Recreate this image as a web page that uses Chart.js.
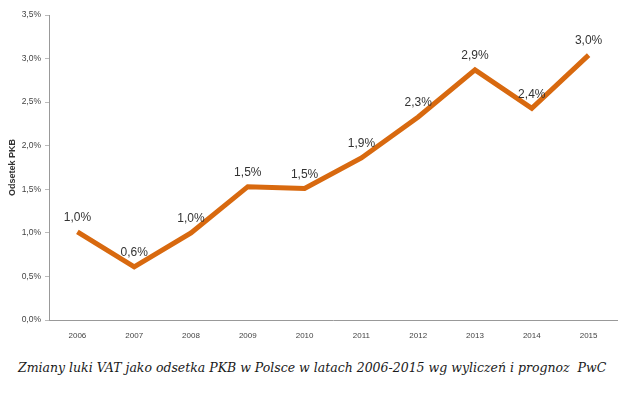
<!DOCTYPE html>
<html lang="pl">
<head>
    <meta charset="UTF-8">
    <title>Luka VAT</title>
    <style>
        html, body { margin: 0; padding: 0; background: #fff; }
        #wrap { position: relative; width: 641px; height: 399px; }
        #chart { position: absolute; left: 0; top: 0; }
        #caption {
            position: absolute; left: 18px; top: 360px;
            font-family: "DejaVu Serif", serif; font-style: italic;
            font-size: 13px; color: #1a1a1a; white-space: nowrap;
        }
    </style>
</head>
<body>
<div id="wrap">
    <canvas id="chart" width="641" height="345"></canvas>
    <div id="caption">Zmiany luki VAT jako odsetka PKB w Polsce w latach 2006-2015 wg wyliczeń i prognoz&nbsp; PwC</div>
</div>

<script src="https://cdn.jsdelivr.net/npm/chart.js"></script>
<script>
    var years = ['2006', '2007', '2008', '2009', '2010', '2011', '2012', '2013', '2014', '2015'];
    var vatGap = [1.01, 0.61, 1.0, 1.53, 1.51, 1.86, 2.33, 2.87, 2.43, 3.04];
    var pointLabels = ['1,0%', '0,6%', '1,0%', '1,5%', '1,5%', '1,9%', '2,3%', '2,9%', '2,4%', '3,0%'];

    // fit caption to the width seen in the picture
    var cap = document.getElementById('caption');
    var size = 13;
    while (cap.offsetWidth > 592 && size > 8) { size -= 0.25; cap.style.fontSize = size + 'px'; }
    while (cap.offsetWidth < 588 && size < 18) { size += 0.25; cap.style.fontSize = size + 'px'; }

    var labelPlugin = {
        id: 'pointLabels',
        afterDatasetsDraw: function(chart) {
            var ctx = chart.ctx;
            var meta = chart.getDatasetMeta(0);
            ctx.save();
            ctx.font = '12px "Liberation Sans", Arial, sans-serif';
            ctx.fillStyle = '#333';
            ctx.textAlign = 'center';
            ctx.textBaseline = 'middle';
            meta.data.forEach(function(pt, i) {
                ctx.fillText(pointLabels[i], pt.x, pt.y - 14);
            });
            ctx.restore();
        }
    };

    var ctx = document.getElementById('chart').getContext('2d');
    var chart = new Chart(ctx, {
        type: 'line',
        data: {
            labels: years,
            datasets: [{
                data: vatGap,
                borderColor: '#d8690f',
                borderWidth: 5,
                pointRadius: 0,
                tension: 0,
                fill: false
            }]
        },
        options: {
            responsive: false,
            animation: false,
            layout: { padding: { top: 15, right: 24, left: 0, bottom: 0 } },
            plugins: { legend: { display: false }, tooltip: { enabled: false } },
            scales: {
                x: {
                    offset: true,
                    grid: { display: false },
                    border: { display: true, color: '#999' },
                    ticks: { color: '#444', font: { size: 8, family: '"Liberation Sans", Arial' }, padding: 3, maxRotation: 0 },
                    afterFit: function(s) { s.height = 25; }
                },
                y: {
                    min: 0,
                    max: 3.5,
                    grid: { drawOnChartArea: false, tickLength: 4, color: '#bbb' },
                    border: { display: true, color: '#999' },
                    ticks: {
                        stepSize: 0.5,
                        color: '#444',
                        padding: 4,
                        font: { size: 8.5, family: '"Liberation Sans", Arial' },
                        callback: function(v) { return v.toFixed(1).replace('.', ',') + '%'; }
                    },
                    title: {
                        display: true,
                        text: 'Odsetek PKB',
                        color: '#333',
                        padding: { top: 7, bottom: 4 },
                        font: { size: 9, weight: 'bold', family: '"Liberation Sans", Arial' }
                    },
                    afterFit: function(s) { s.width = 49; }
                }
            }
        },
        plugins: [labelPlugin]
    });
</script>
</body>
</html>
